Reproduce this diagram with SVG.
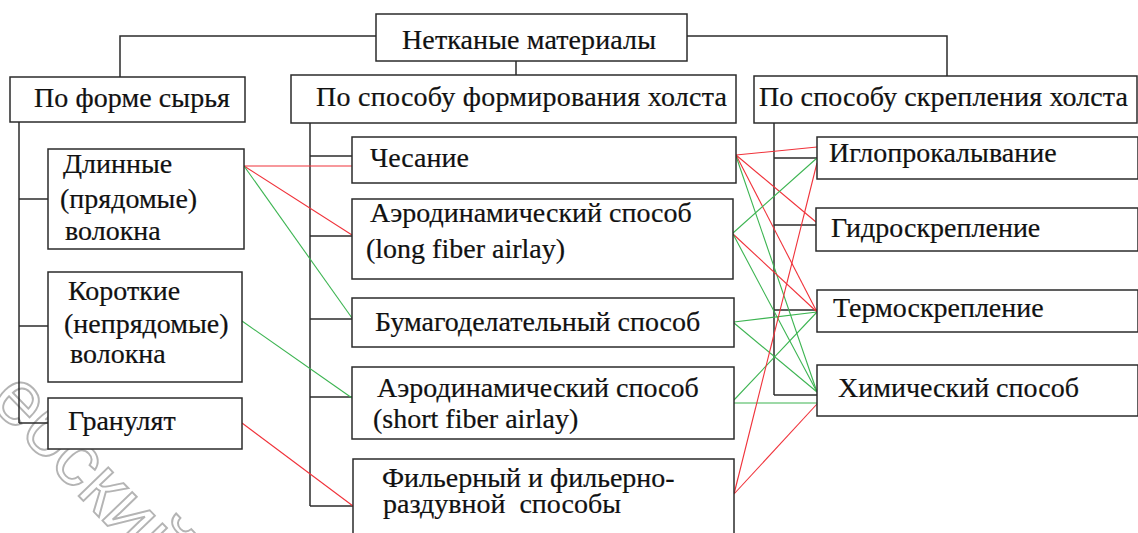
<svg xmlns="http://www.w3.org/2000/svg" width="1138" height="533" viewBox="0 0 1138 533">
  <style>
    .box { fill: #ffffff; stroke: #2b2b2b; stroke-width: 1.5; }
    .lbl { font-family: 'Liberation Serif', 'DejaVu Serif', serif; font-size: 28px; fill: #111111; stroke: #111111; stroke-width: 0.2; }
    .tree { fill: none; stroke: #2b2b2b; stroke-width: 1.5; }
    .red { stroke: #f0323a; stroke-width: 1.1; fill: none; }
    .grn { stroke: #3cb451; stroke-width: 1.1; fill: none; }
    .wm { font-family: 'Liberation Sans', Arial, sans-serif; font-size: 78px; fill: none; stroke: #b4b4b4; stroke-width: 1.9; }
  </style>

  <rect width="1138" height="533" fill="#ffffff"/>

  <!-- background stamp -->
  <text class="wm" transform="translate(-12 402) rotate(46)">ебский</text>

  <!-- hierarchy connectors and material/process links -->
  <g id="connectors">
    <polyline class="tree" points="376,36 120,36 120,77"/>
    <polyline class="tree" points="687,36 947,36 947,76"/>
    <line class="tree" x1="516" y1="61" x2="516" y2="75"/>

    <line class="tree" x1="19" y1="122" x2="19" y2="423"/>
    <line class="tree" x1="19" y1="199" x2="48" y2="199"/>
    <line class="tree" x1="19" y1="326" x2="48" y2="326"/>
    <line class="tree" x1="19" y1="423" x2="48" y2="423"/>

    <line class="tree" x1="310" y1="123" x2="310" y2="506"/>
    <line class="tree" x1="310" y1="156" x2="352" y2="156"/>
    <line class="tree" x1="310" y1="236" x2="352" y2="236"/>
    <line class="tree" x1="310" y1="319" x2="352" y2="319"/>
    <line class="tree" x1="310" y1="397" x2="352" y2="397"/>
    <line class="tree" x1="310" y1="506" x2="353" y2="506"/>

    <line class="tree" x1="774" y1="123" x2="774" y2="395"/>
    <line class="tree" x1="774" y1="158" x2="817" y2="158"/>
    <line class="tree" x1="774" y1="225" x2="816" y2="225"/>
    <line class="tree" x1="774" y1="310" x2="817" y2="310"/>
    <line class="tree" x1="774" y1="395" x2="817" y2="395"/>

    <!-- raw material to web forming -->
    <line class="red" x1="244" y1="166" x2="352" y2="166"/>
    <line class="red" x1="244" y1="166" x2="352" y2="235"/>
    <line class="grn" x1="244" y1="166" x2="352" y2="318"/>
    <line class="grn" x1="242" y1="321" x2="352" y2="398"/>
    <line class="red" x1="242" y1="423" x2="353" y2="506"/>

    <!-- web forming to bonding -->
    <line class="red" x1="736" y1="155" x2="817" y2="147"/>
    <line class="red" x1="736" y1="155" x2="816" y2="222"/>
    <line class="red" x1="736" y1="155" x2="817" y2="312"/>
    <line class="grn" x1="736" y1="156" x2="817" y2="392"/>
    <line class="grn" x1="733" y1="233" x2="817" y2="158"/>
    <line class="red" x1="733" y1="234" x2="817" y2="312"/>
    <line class="grn" x1="733" y1="234" x2="817" y2="392"/>
    <line class="grn" x1="734" y1="322" x2="817" y2="312"/>
    <line class="grn" x1="734" y1="323" x2="817" y2="392"/>
    <line class="grn" x1="734" y1="400" x2="817" y2="312"/>
    <line class="grn" x1="734" y1="403" x2="817" y2="403"/>
    <line class="red" x1="734" y1="494" x2="817" y2="163"/>
    <line class="red" x1="734" y1="494" x2="817" y2="404"/>
  </g>

  <g id="root">
    <rect class="box" x="376" y="14" width="311" height="47"/>
    <text class="lbl" x="402" y="49" textLength="254" lengthAdjust="spacing">Нетканые материалы</text>
  </g>

  <g id="by-raw-form">
    <rect class="box" x="10" y="77" width="235" height="45"/>
    <text class="lbl" x="34" y="107" textLength="196" lengthAdjust="spacing">По форме сырья</text>
  </g>
  <g id="by-web-forming">
    <rect class="box" x="291" y="75" width="445" height="48"/>
    <text class="lbl" x="316" y="106" textLength="411" lengthAdjust="spacing">По способу формирования холста</text>
  </g>
  <g id="by-web-bonding">
    <rect class="box" x="754" y="76" width="383" height="47"/>
    <text class="lbl" x="759" y="106" textLength="369" lengthAdjust="spacing">По способу скрепления холста</text>
  </g>

  <g id="long-fibers">
    <rect class="box" x="48" y="149" width="196" height="100"/>
    <text class="lbl" x="63" y="173">Длинные</text>
    <text class="lbl" x="60" y="208">(прядомые)</text>
    <text class="lbl" x="65" y="240">волокна</text>
  </g>
  <g id="short-fibers">
    <rect class="box" x="48" y="272" width="194" height="110"/>
    <text class="lbl" x="68" y="300">Короткие</text>
    <text class="lbl" x="64" y="333">(непрядомые)</text>
    <text class="lbl" x="70" y="363">волокна</text>
  </g>
  <g id="granulate">
    <rect class="box" x="48" y="398" width="194" height="51"/>
    <text class="lbl" x="68" y="430">Гранулят</text>
  </g>

  <g id="carding">
    <rect class="box" x="352" y="137" width="384" height="46"/>
    <text class="lbl" x="370" y="167">Чесание</text>
  </g>
  <g id="airlay-long">
    <rect class="box" x="352" y="199" width="381" height="80"/>
    <text class="lbl" x="370" y="222">Аэродинамический способ</text>
    <text class="lbl" x="366" y="258">(long fiber airlay)</text>
  </g>
  <g id="wetlaid">
    <rect class="box" x="352" y="298" width="382" height="49"/>
    <text class="lbl" x="375" y="331">Бумагоделательный способ</text>
  </g>
  <g id="airlay-short">
    <rect class="box" x="352" y="367" width="382" height="72"/>
    <text class="lbl" x="377" y="397">Аэродинамический способ</text>
    <text class="lbl" x="373" y="428">(short fiber airlay)</text>
  </g>
  <g id="spunbond-meltblown">
    <rect class="box" x="353" y="459" width="381" height="84"/>
    <text class="lbl" x="382" y="487">Фильерный и фильерно-</text>
    <text class="lbl" x="383" y="513" xml:space="preserve">раздувной  способы</text>
  </g>

  <g id="needle-punching">
    <rect class="box" x="817" y="137" width="321" height="42"/>
    <text class="lbl" x="829" y="162">Иглопрокалывание</text>
  </g>
  <g id="hydroentangling">
    <rect class="box" x="816" y="208" width="322" height="43"/>
    <text class="lbl" x="831" y="237">Гидроскрепление</text>
  </g>
  <g id="thermal-bonding">
    <rect class="box" x="817" y="290" width="321" height="42"/>
    <text class="lbl" x="833" y="317">Термоскрепление</text>
  </g>
  <g id="chemical-bonding">
    <rect class="box" x="817" y="365" width="321" height="51"/>
    <text class="lbl" x="838" y="397">Химический способ</text>
  </g>
</svg>
